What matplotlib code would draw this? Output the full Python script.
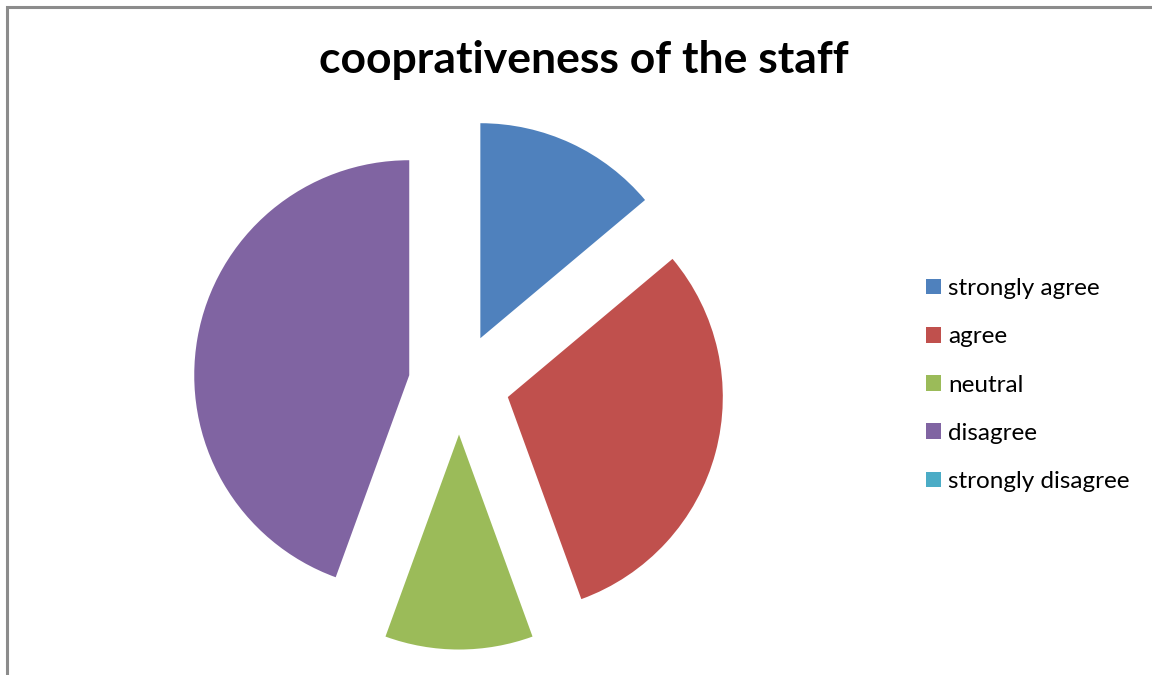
import matplotlib
matplotlib.use("Agg")
import matplotlib.pyplot as plt
from matplotlib.patches import Patch, Rectangle

categories = ["strongly agree", "agree", "neutral", "disagree", "strongly disagree"]
values = [5, 11, 4, 16, 0]
colors = ["#4F81BD", "#C0504D", "#9BBB59", "#8064A2", "#4BACC6"]
title = "cooprativeness of the staff"

W, H = 1152, 675
fig = plt.figure(figsize=(W / 100, H / 100), dpi=100)
fig.patch.set_facecolor("white")

# border (left and top visible)
fig.patches.append(Rectangle((6.5 / W, -0.1), 2.0, (H - 7.5) / H + 0.1,
                             transform=fig.transFigure, fill=False,
                             edgecolor="#8c8c8c", linewidth=2.2))

cx, cy, R = 459, 384, 215  # pixel geometry
ax = fig.add_axes([0, 0, 1, 1])

nz = [(v, c) for v, c in zip(values, colors) if v > 0]
ax.pie([v for v, _ in nz], colors=[c for _, c in nz], startangle=90,
       counterclock=False, explode=[0.235] * len(nz), radius=1,
       wedgeprops=dict(linewidth=0), frame=True)
ax.set_aspect("auto")
ax.set_xlim(-cx / R, (W - cx) / R)
ax.set_ylim(-(H - cy) / R, cy / R)
ax.axis("off")

fig.text(584 / W, 1 - 60 / H, title, ha="center", va="center",
         fontsize=32, fontweight="bold", family="Lato")

handles = [Patch(facecolor=c, edgecolor="none") for c in colors]
fig.legend(handles, categories, loc="center left",
           bbox_to_anchor=(926 / W, 1 - 385 / H), frameon=False,
           prop=dict(family="Lato", size=17.5), handlelength=0.62,
           handleheight=0.62, handletextpad=0.3, labelspacing=1.12,
           borderpad=0, borderaxespad=0)

fig.savefig("out.png", dpi=100)
